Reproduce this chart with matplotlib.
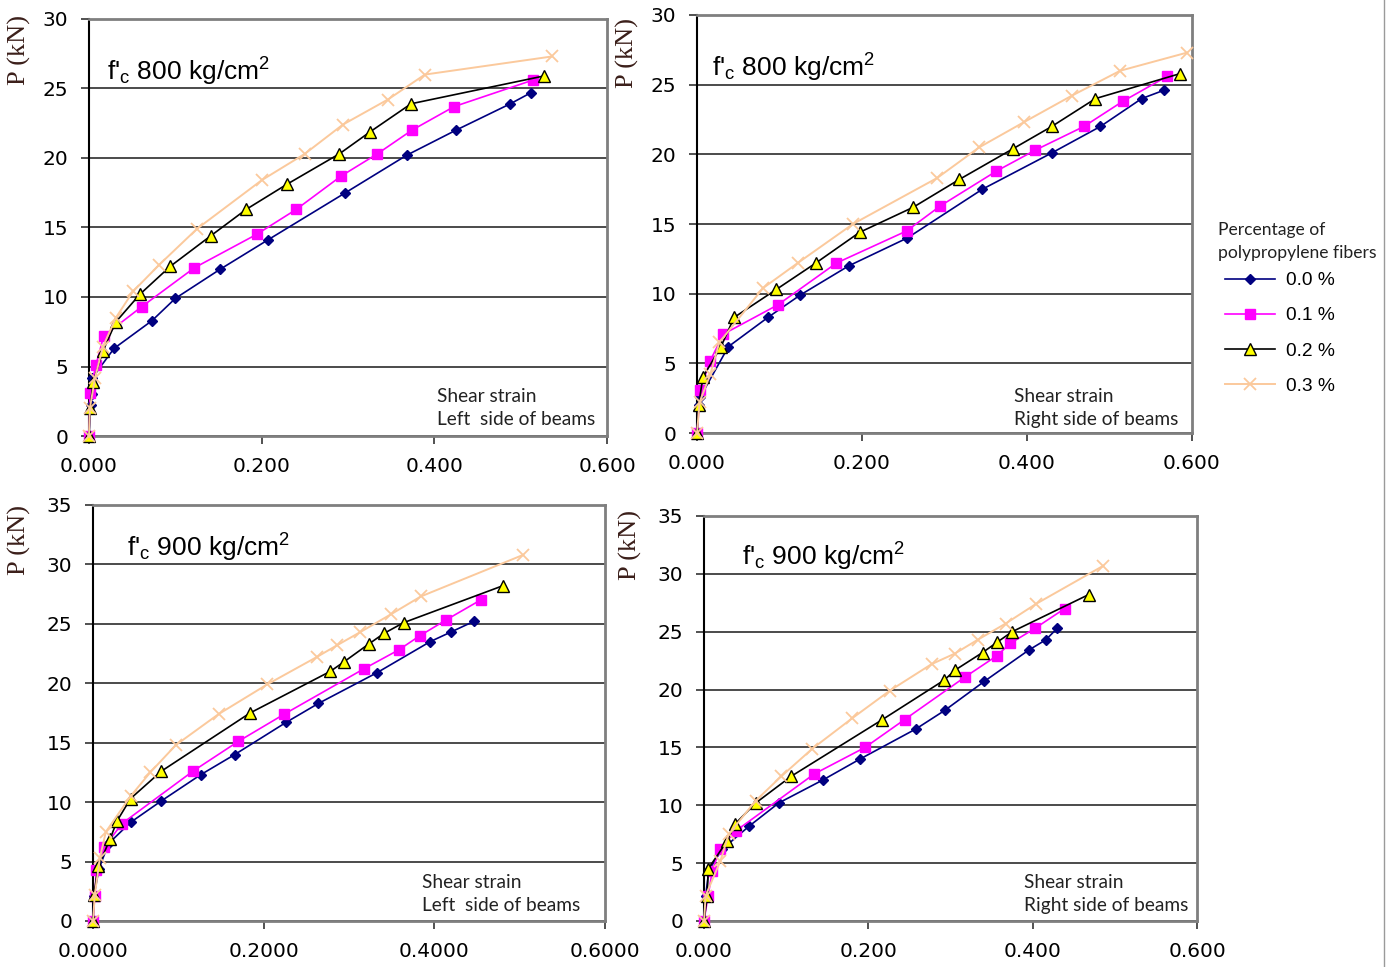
import matplotlib.pyplot as plt
from matplotlib.lines import Line2D

# fibre contents (legend)
fibers = ['0.0 %', '0.1 %', '0.2 %', '0.3 %']

# f'c 800, left side
l800_x0 = [0, 0.002, 0.003, 0.004, 0.029, 0.073, 0.100, 0.152, 0.207, 0.297, 0.368, 0.425, 0.488, 0.512]
l800_p0 = [0, 2.2, 3.0, 4.2, 6.3, 8.3, 9.9, 12.0, 14.1, 17.5, 20.2, 22.0, 23.9, 24.7]
l800_x1 = [0, 0.001, 0.008, 0.017, 0.061, 0.122, 0.194, 0.240, 0.292, 0.334, 0.374, 0.423, 0.514]
l800_p1 = [0, 3.1, 5.1, 7.2, 9.3, 12.1, 14.5, 16.3, 18.7, 20.3, 22.0, 23.7, 25.6]
l800_x2 = [0, 0.001, 0.005, 0.016, 0.031, 0.059, 0.094, 0.141, 0.182, 0.229, 0.290, 0.326, 0.373, 0.527]
l800_p2 = [0, 2.0, 3.9, 6.1, 8.2, 10.2, 12.2, 14.4, 16.3, 18.1, 20.3, 21.9, 23.9, 25.9]
l800_x3 = [0, 0.001, 0.007, 0.016, 0.031, 0.051, 0.081, 0.125, 0.200, 0.250, 0.294, 0.346, 0.389, 0.536]
l800_p3 = [0, 2.0, 4.2, 6.4, 8.5, 10.4, 12.3, 14.9, 18.4, 20.3, 22.4, 24.2, 26.0, 27.3]

# f'c 800, right side
r800_x0 = [0, 0.002, 0.004, 0.038, 0.086, 0.125, 0.184, 0.255, 0.346, 0.430, 0.489, 0.539, 0.566]
r800_p0 = [0, 2.0, 2.6, 6.2, 8.3, 9.9, 12.0, 14.0, 17.5, 20.1, 22.0, 24.0, 24.6]
r800_x1 = [0, 0.004, 0.016, 0.032, 0.098, 0.169, 0.254, 0.295, 0.363, 0.410, 0.469, 0.516, 0.570]
r800_p1 = [0, 3.1, 5.2, 7.1, 9.2, 12.2, 14.5, 16.3, 18.8, 20.3, 22.0, 23.8, 25.6]
r800_x2 = [0, 0.002, 0.007, 0.029, 0.045, 0.096, 0.144, 0.197, 0.262, 0.318, 0.383, 0.430, 0.483, 0.586]
r800_p2 = [0, 2.0, 4.0, 6.2, 8.3, 10.3, 12.2, 14.4, 16.2, 18.2, 20.4, 22.0, 24.0, 25.8]
r800_x3 = [0, 0.003, 0.016, 0.027, 0.080, 0.122, 0.189, 0.291, 0.342, 0.396, 0.454, 0.513, 0.594]
r800_p3 = [0, 2.2, 4.2, 6.5, 10.4, 12.2, 15.0, 18.3, 20.5, 22.3, 24.2, 26.0, 27.3]

# f'c 900, left side
l900_x0 = [0, 0.001, 0.007, 0.018, 0.044, 0.080, 0.126, 0.166, 0.226, 0.264, 0.333, 0.395, 0.419, 0.446]
l900_p0 = [0, 2.1, 4.4, 6.5, 8.3, 10.1, 12.3, 14.0, 16.7, 18.3, 20.9, 23.5, 24.3, 25.2]
l900_x1 = [0, 0.002, 0.004, 0.013, 0.034, 0.117, 0.170, 0.224, 0.317, 0.358, 0.383, 0.413, 0.454]
l900_p1 = [0, 2.1, 4.3, 6.2, 8.2, 12.6, 15.1, 17.4, 21.2, 22.8, 24.0, 25.3, 27.0]
l900_x2 = [0, 0.001, 0.006, 0.020, 0.028, 0.044, 0.080, 0.184, 0.278, 0.294, 0.323, 0.341, 0.364, 0.480]
l900_p2 = [0, 2.2, 4.6, 6.9, 8.4, 10.3, 12.6, 17.5, 21.0, 21.8, 23.3, 24.2, 25.1, 28.2]
l900_x3 = [0, 0.002, 0.008, 0.015, 0.044, 0.067, 0.097, 0.147, 0.204, 0.262, 0.286, 0.313, 0.349, 0.384, 0.504]
l900_p3 = [0, 2.2, 5.3, 7.5, 10.5, 12.5, 14.8, 17.4, 19.9, 22.2, 23.2, 24.3, 25.8, 27.3, 30.8]

# f'c 900, right side
r900_x0 = [0, 0.002, 0.006, 0.022, 0.055, 0.091, 0.145, 0.190, 0.258, 0.293, 0.341, 0.395, 0.416, 0.430]
r900_p0 = [0, 2.2, 4.4, 6.2, 8.2, 10.2, 12.2, 14.0, 16.6, 18.2, 20.7, 23.4, 24.3, 25.3]
r900_x1 = [0, 0.005, 0.010, 0.019, 0.039, 0.134, 0.196, 0.244, 0.318, 0.356, 0.373, 0.403, 0.439]
r900_p1 = [0, 2.2, 4.3, 6.2, 7.8, 12.7, 15.0, 17.4, 21.1, 22.9, 24.0, 25.3, 27.0]
r900_x2 = [0, 0.004, 0.005, 0.028, 0.038, 0.063, 0.106, 0.217, 0.292, 0.306, 0.339, 0.357, 0.375, 0.468]
r900_p2 = [0, 2.2, 4.5, 6.9, 8.4, 10.2, 12.5, 17.4, 20.8, 21.7, 23.2, 24.1, 25.0, 28.2]
r900_x3 = [0, 0.002, 0.020, 0.030, 0.063, 0.094, 0.132, 0.180, 0.226, 0.277, 0.305, 0.333, 0.367, 0.404, 0.486]
r900_p3 = [0, 2.2, 5.2, 7.5, 10.4, 12.5, 14.9, 17.5, 19.9, 22.2, 23.1, 24.3, 25.7, 27.4, 30.7]

styles = [
    dict(color='#000080', marker='D', ms=5.5, mfc='#000080', mec='#000080', lw=1.2),
    dict(color='#FF00FF', marker='s', ms=7.5, mfc='#FF00FF', mec='#FF00FF', lw=1.2),
    dict(color='black', marker='^', ms=8.5, mfc='#FFFF00', mec='black', mew=1.0, lw=1.2),
    dict(color='#FBC99C', marker='x', ms=9, mfc='none', mec='#FBC99C', mew=1.3, lw=1.4),
]

panels = [
    dict(pos=[0.0639, 0.5491, 0.3719, 0.4313], ymax=30, fmt='{:.3f}', fc='800', side='Left  side of beams',
         data=[(l800_x0, l800_p0), (l800_x1, l800_p1), (l800_x2, l800_p2), (l800_x3, l800_p3)],
         ylab=(-0.112, 0.925), note=(0.035, 0.873), shear=(0.672, 0.067)),
    dict(pos=[0.5004, 0.5522, 0.3553, 0.4323], ymax=30, fmt='{:.3f}', fc='800', side='Right side of beams',
         data=[(r800_x0, r800_p0), (r800_x1, r800_p1), (r800_x2, r800_p2), (r800_x3, r800_p3)],
         ylab=(-0.117, 0.91), note=(0.03, 0.873), shear=(0.64, 0.06)),
    dict(pos=[0.0668, 0.0476, 0.3676, 0.4302], ymax=35, fmt='{:.4f}', fc='900', side='Left  side of beams',
         data=[(l900_x0, l900_p0), (l900_x1, l900_p1), (l900_x2, l900_p2), (l900_x3, l900_p3)],
         ylab=(-0.121, 0.916), note=(0.066, 0.897), shear=(0.643, 0.065)),
    dict(pos=[0.5054, 0.0476, 0.3539, 0.4188], ymax=35, fmt='{:.3f}', fc='900', side='Right side of beams',
         data=[(r900_x0, r900_p0), (r900_x1, r900_p1), (r900_x2, r900_p2), (r900_x3, r900_p3)],
         ylab=(-0.126, 0.928), note=(0.077, 0.899), shear=(0.649, 0.067)),
]

fig = plt.figure(figsize=(13.93, 9.67), dpi=100)
handles = []
for k, pn in enumerate(panels):
    ax = fig.add_axes(pn['pos'])
    for i, (xs, ps) in enumerate(pn['data']):
        ln, = ax.plot(xs, ps, clip_on=False, zorder=3 + i * 0.1, **styles[i])
        if k == 0:
            handles.append(ln)
    ax.set_xlim(0, 0.6)
    ax.set_ylim(0, pn['ymax'])
    xt = [0, 0.2, 0.4, 0.6]
    ax.set_xticks(xt)
    ax.set_xticklabels([pn['fmt'].format(v) for v in xt], fontsize=14.5, family='DejaVu Sans')
    yt = list(range(0, pn['ymax'] + 1, 5))
    ax.set_yticks(yt)
    ax.set_yticklabels([str(v) for v in yt], fontsize=14.5, family='DejaVu Sans')
    ax.tick_params(axis='x', direction='out', length=6, width=1.2, pad=9, color='#333333')
    ax.tick_params(axis='y', direction='out', length=6, width=1.2, pad=9, color='#333333')
    ax.yaxis.grid(True, color='#1a1a1a', lw=1.1)
    ax.set_axisbelow(True)
    ax.spines['left'].set_color('black')
    ax.spines['left'].set_linewidth(1.5)
    for s in ['top', 'right', 'bottom']:
        ax.spines[s].set_color('#7f7f7f')
        ax.spines[s].set_linewidth(2)
    ax.set_ylabel('P (kN)', family='Liberation Serif', fontsize=19, color='#3b1f1a')
    ax.yaxis.set_label_coords(*pn['ylab'])
    ax.text(pn['note'][0], pn['note'][1],
            r"f$\mathregular{'_{c}}$ " + pn['fc'] + r" kg/cm$\mathregular{^{2}}$",
            transform=ax.transAxes, fontsize=19, family='Liberation Sans', va='center', ha='left')
    ax.text(pn['shear'][0], pn['shear'][1], 'Shear strain\n' + pn['side'],
            transform=ax.transAxes, fontsize=13.8, family='Lato', color='#222222',
            va='center', ha='left', linespacing=1.45)

# legend title as plain text, entries below it
fig.text(1218 / 1393, 1 - 230 / 967, 'Percentage of', family='Lato', fontsize=12.6,
         va='center', ha='left', color='#222222')
fig.text(1218 / 1393, 1 - 253 / 967, 'polypropylene fibers', family='Lato', fontsize=12.6,
         va='center', ha='left', color='#222222')
fig.legend(handles, fibers, loc='upper left', bbox_to_anchor=(1225 / 1393, 1 - 272 / 967),
           frameon=False, borderaxespad=0, borderpad=0,
           handlelength=2.6, labelspacing=0.92, handletextpad=0.6,
           prop=dict(family='Liberation Sans', size=13.8))

fig.add_artist(Line2D([1384 / 1393, 1384 / 1393], [0.0, 1.0], transform=fig.transFigure,
                      color='#9a9a9a', lw=1))

fig.savefig('out.png', dpi=100)
